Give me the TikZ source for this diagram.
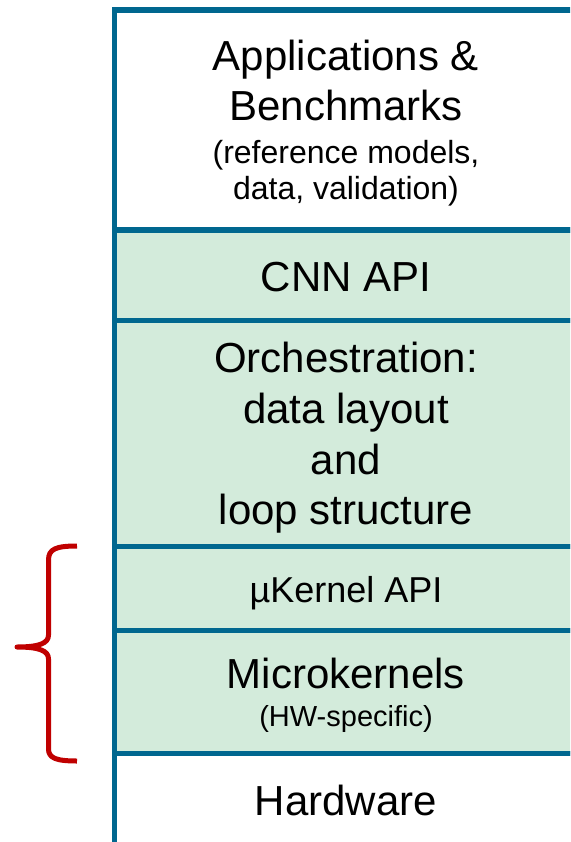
\documentclass[tikz,border=0pt]{standalone}
\usepackage{fontspec}
\setmainfont{Liberation Sans}
\definecolor{lineblue}{RGB}{0,103,143}
\definecolor{layergreen}{RGB}{211,235,219}
\definecolor{bracered}{RGB}{192,0,0}
\tikzset{
  layer/.style={rectangle, draw=lineblue, line width=5.3pt, anchor=north west,
    minimum width=465pt, inner sep=0pt, outer sep=0pt},
  greenlayer/.style={layer, fill=layergreen},
  whitelayer/.style={layer, fill=white},
  bigtxt/.style={anchor=base, inner sep=0pt, font=\fontsize{42}{50}\selectfont},
  midtxt/.style={anchor=base, inner sep=0pt, font=\fontsize{36}{43}\selectfont},
  smalltxt/.style={anchor=base, inner sep=0pt, font=\fontsize{32}{37}\selectfont},
  tinytxt/.style={anchor=base, inner sep=0pt, font=\fontsize{29}{34}\selectfont},
  bracestyle/.style={draw=bracered, line width=5pt, line join=round, line cap=butt}
}
\begin{document}
\begin{tikzpicture}[x=1pt, y=-1pt]
\useasboundingbox (0,0) rectangle (570,842);
\fill[white] (0,0) rectangle (570,842);
\clip (0,0) rectangle (570,842);
% layers
\node[whitelayer, minimum height=220pt] (apps) at (114.5,10) {};
\node[greenlayer, minimum height=90.5pt] (cnn) at (114.5,230) {};
\node[greenlayer, minimum height=226pt] (orch) at (114.5,320.5) {};
\node[greenlayer, minimum height=84pt] (ukapi) at (114.5,546.5) {};
\node[greenlayer, minimum height=123pt] (mk) at (114.5,630.5) {};
\node[whitelayer, minimum height=92pt] (hw) at (114.5,753.5) {};
% texts
\node[bigtxt] (appA) at (346,71) {Applications \&};
\node[bigtxt] (appB) at (346,121) {Benchmarks};
\node[smalltxt] (appC) at (346,164) {(reference models,};
\node[smalltxt] (appD) at (346,200) {data, validation)};
\node[bigtxt] (cnnT) at (346,291) {CNN API};
\node[bigtxt] (orA) at (346,372) {Orchestration:};
\node[bigtxt] (orB) at (346,423) {data layout};
\node[bigtxt] (orC) at (346,474) {and};
\node[bigtxt] (orD) at (346,524) {loop structure};
\node[midtxt] (ukT) at (346,602) {µKernel API};
\node[bigtxt] (mkA) at (346,688) {Microkernels};
\node[tinytxt] (mkB) at (346,726) {(HW-specific)};
\node[bigtxt] (hwT) at (346,815) {Hardware};
% brace
\coordinate (bTop) at (77,546);
\coordinate (bMid) at (17,647);
\coordinate (bBot) at (77,761);
\draw[bracestyle] (bTop) .. controls (56,546) and (48.5,549) .. (48.5,560)
  -- (48.5,635) .. controls (48.5,643) and (40,647) .. (bMid)
  .. controls (40,647) and (48.5,651) .. (48.5,659)
  -- (48.5,749) .. controls (48.5,758) and (56,761) .. (bBot);
\end{tikzpicture}
\end{document}
